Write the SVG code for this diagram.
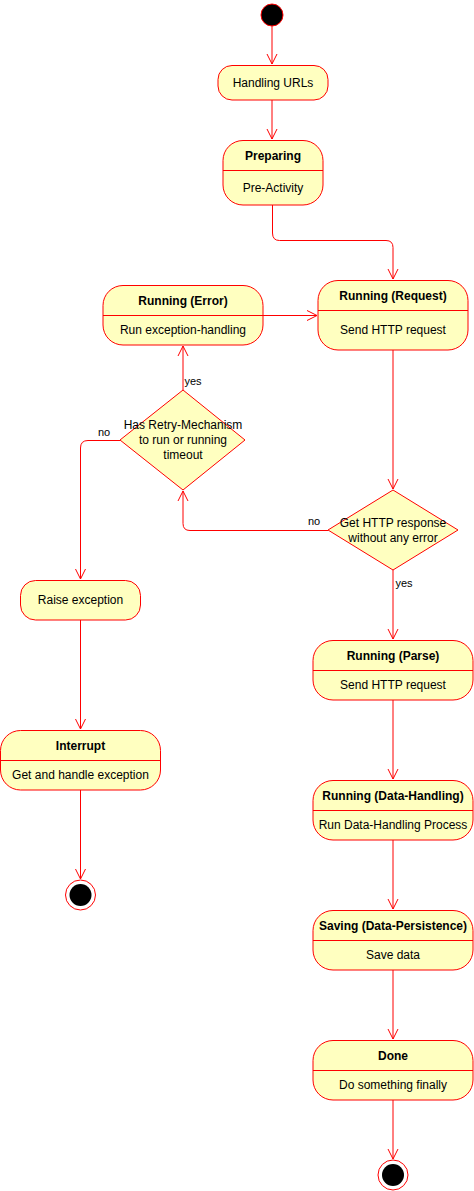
<svg xmlns="http://www.w3.org/2000/svg" width="474" height="1191" viewBox="0 0 474 1191">
<style>
.box{fill:#FFFFC0;stroke:#FF0000;stroke-width:1}
.div{stroke:#FF0000;stroke-width:1;fill:none}
.edge{stroke:#FF0000;stroke-width:1;fill:none}
text{font-family:"Liberation Sans",Arial,Helvetica,sans-serif;font-size:12px;fill:#000;text-anchor:middle}
.b{font-weight:bold}
</style>
<defs>
<marker id="arr" viewBox="0 0 12 12" refX="11" refY="6" markerWidth="12" markerHeight="12" markerUnits="userSpaceOnUse" orient="auto">
<path d="M1,1 L11,6 L1,11" fill="none" stroke="#FF0000" stroke-width="1"/>
</marker>
</defs>
<g id="connectors">
<path class="edge" d="M272,26 V64" marker-end="url(#arr)"/>
<path class="edge" d="M272,100 V139" marker-end="url(#arr)"/>
<path class="edge" d="M272.5,205 V233 Q272.5,240.5 279.5,240.5 H386 Q393,240.5 393,247.5 V279" marker-end="url(#arr)"/>
<path class="edge" d="M263,315.5 H317" marker-end="url(#arr)"/>
<path class="edge" d="M393,350 V489" marker-end="url(#arr)"/>
<path class="edge" d="M328,530.5 H190 Q183,530.5 183,523.5 V491" marker-end="url(#arr)"/>
<path class="edge" d="M183,390 V346" marker-end="url(#arr)"/>
<path class="edge" d="M120,440.5 H88 Q80.5,440.5 80.5,448 V579" marker-end="url(#arr)"/>
<path class="edge" d="M393,570 V639" marker-end="url(#arr)"/>
<path class="edge" d="M80.5,620 V729" marker-end="url(#arr)"/>
<path class="edge" d="M80.5,790 V879" marker-end="url(#arr)"/>
<path class="edge" d="M393,700 V779" marker-end="url(#arr)"/>
<path class="edge" d="M393,840 V909" marker-end="url(#arr)"/>
<path class="edge" d="M393,970 V1039" marker-end="url(#arr)"/>
<path class="edge" d="M393,1100 V1159" marker-end="url(#arr)"/>
<text x="193" y="385" style="text-anchor:middle;font-size:11px">yes</text>
<text x="104" y="436" style="font-size:11px">no</text>
<text x="314" y="525" style="font-size:11px">no</text>
<text x="404" y="587" style="font-size:11px">yes</text>
</g>
<g id="start">
<circle cx="272" cy="15" r="11" fill="#000" stroke="#FF0000" stroke-width="1"/>
</g>
<g id="handling-urls">
<rect class="box" x="218" y="65.5" width="110" height="34.5" rx="14" ry="14"/>
<text x="273" y="87">Handling URLs</text>
</g>
<g id="preparing">
<rect class="box" x="223" y="140.5" width="100" height="64.5" rx="20" ry="20"/>
<line class="div" x1="223" y1="170.5" x2="323" y2="170.5"/>
<text class="b" x="273" y="160">Preparing</text>
<text x="273" y="192">Pre-Activity</text>
</g>
<g id="running-error">
<rect class="box" x="103" y="285.5" width="160" height="59.5" rx="20" ry="20"/>
<line class="div" x1="103" y1="315.5" x2="263" y2="315.5"/>
<text class="b" x="183" y="305">Running (Error)</text>
<text x="183" y="334">Run exception-handling</text>
</g>
<g id="running-request">
<rect class="box" x="318" y="280.5" width="150" height="69.5" rx="20" ry="20"/>
<line class="div" x1="318" y1="310.5" x2="468" y2="310.5"/>
<text class="b" x="393" y="300">Running (Request)</text>
<text x="393" y="334">Send HTTP request</text>
</g>
<g id="retry-decision">
<path class="box" d="M183,390 L245,440 L183,490 L120,440 Z"/>
<text x="183" y="429">Has Retry-Mechanism</text>
<text x="183" y="444">to run or running</text>
<text x="183" y="459">timeout</text>
</g>
<g id="http-decision">
<path class="box" d="M393,490 L458,530 L393,570 L328,530 Z"/>
<text x="393" y="527">Get HTTP response</text>
<text x="393" y="542">without any error</text>
</g>
<g id="raise-exception">
<rect class="box" x="20.5" y="580.5" width="120" height="39.5" rx="15" ry="15"/>
<text x="80.5" y="604">Raise exception</text>
</g>
<g id="interrupt">
<rect class="box" x="0.5" y="730.5" width="160" height="59.5" rx="20" ry="20"/>
<line class="div" x1="0.5" y1="760.5" x2="160.5" y2="760.5"/>
<text class="b" x="80.5" y="750">Interrupt</text>
<text x="80.5" y="779">Get and handle exception</text>
</g>
<g id="end-left">
<circle cx="80.5" cy="895" r="15" fill="none" stroke="#FF0000" stroke-width="1"/>
<circle cx="80.5" cy="895" r="11" fill="#000"/>
</g>
<g id="running-parse">
<rect class="box" x="313" y="640.5" width="160" height="59.5" rx="20" ry="20"/>
<line class="div" x1="313" y1="670.5" x2="473" y2="670.5"/>
<text class="b" x="393" y="660">Running (Parse)</text>
<text x="393" y="689">Send HTTP request</text>
</g>
<g id="running-data-handling">
<rect class="box" x="313" y="780.5" width="160" height="59.5" rx="20" ry="20"/>
<line class="div" x1="313" y1="810.5" x2="473" y2="810.5"/>
<text class="b" x="393" y="800">Running (Data-Handling)</text>
<text x="393" y="829">Run Data-Handling Process</text>
</g>
<g id="saving">
<rect class="box" x="313" y="910.5" width="160" height="59.5" rx="20" ry="20"/>
<line class="div" x1="313" y1="940.5" x2="473" y2="940.5"/>
<text class="b" x="393" y="930">Saving (Data-Persistence)</text>
<text x="393" y="959">Save data</text>
</g>
<g id="done">
<rect class="box" x="313" y="1040.5" width="160" height="59.5" rx="20" ry="20"/>
<line class="div" x1="313" y1="1070.5" x2="473" y2="1070.5"/>
<text class="b" x="393" y="1060">Done</text>
<text x="393" y="1089">Do something finally</text>
</g>
<g id="end-right">
<circle cx="393" cy="1175" r="15" fill="none" stroke="#FF0000" stroke-width="1"/>
<circle cx="393" cy="1175" r="11" fill="#000"/>
</g>
</svg>
